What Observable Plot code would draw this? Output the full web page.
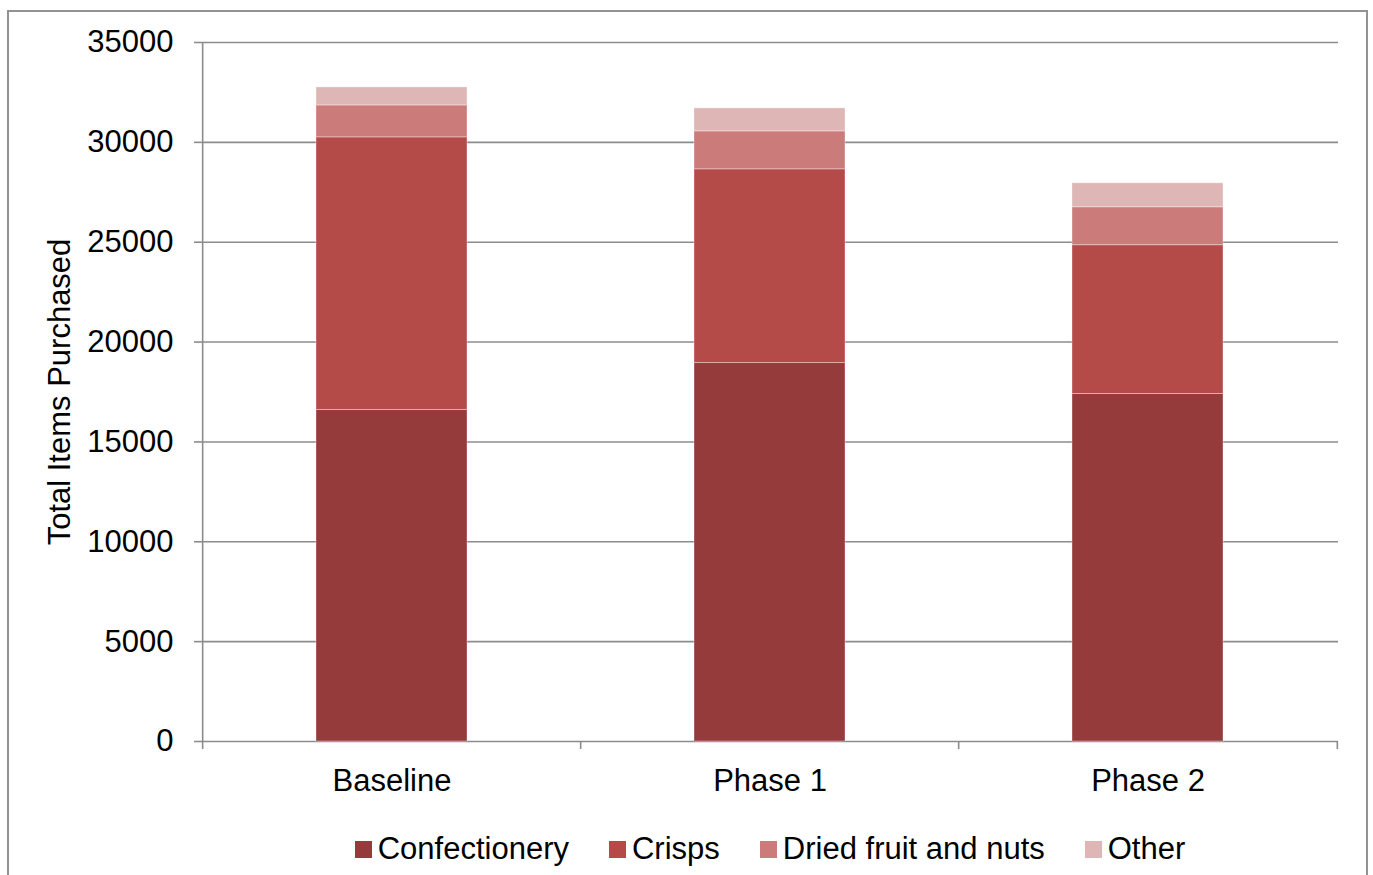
<!DOCTYPE html>
<html><head><meta charset="utf-8">
<script src="https://cdn.jsdelivr.net/npm/d3@7"></script>
<script src="https://cdn.jsdelivr.net/npm/@observablehq/plot@0.6"></script>
<style>
body{margin:0;background:#fff;font-family:"Liberation Sans",Arial,sans-serif;}
#wrap{position:relative;width:1373px;height:875px;overflow:hidden;background:#fff}
#border{position:absolute;left:7px;top:10px;width:1361px;height:900px;border:2px solid #929292;box-sizing:border-box}
#chart{position:absolute;left:0;top:0}
#legend{position:absolute;left:202px;width:1136px;top:829px;height:40px;display:flex;justify-content:center;align-items:center;gap:40px;font-size:31px;color:#000}
.item{display:flex;align-items:center}
.sw{width:17px;height:17px;margin-right:6px}
</style></head>
<body>
<div id="wrap"><div id="border"></div><div id="chart"></div><div id="legend"></div></div>
<script>
const categories = ["Baseline", "Phase 1", "Phase 2"];
const seriesNames = ["Confectionery", "Crisps", "Dried fruit and nuts", "Other"];
const confectionery = [16600, 18950, 17400];
const crisps = [13650, 9700, 7450];
const driedFruitNuts = [1600, 1900, 1900];
const other = [900, 1150, 1200];
const seriesColors = ["#953b3b", "#b54b49", "#cb7c7a", "#dfb6b6"];
const yTicks = [0, 5000, 10000, 15000, 20000, 25000, 30000, 35000];

const seriesValues = [confectionery, crisps, driedFruitNuts, other];
const rows = [];
seriesNames.forEach((s, si) => categories.forEach((c, ci) => rows.push({category: c, series: s, value: seriesValues[si][ci]})));

const W = 1373, H = 825;
const mL = 202, mR = 35, mT = 42, mB = 84;
const step = (W - mL - mR) / categories.length;
const font = "Liberation Sans, Arial, sans-serif";

const plot = Plot.plot({
  width: W, height: H,
  marginLeft: mL, marginRight: mR, marginTop: mT, marginBottom: mB,
  style: {fontFamily: font, fontSize: "31px", color: "#000", background: "transparent", overflow: "visible"},
  x: {domain: categories, paddingInner: 0.6, paddingOuter: 0.3},
  y: {domain: [0, 35000]},
  color: {domain: seriesNames, range: seriesColors},
  marks: [
    Plot.gridY(yTicks, {stroke: "#8c8c8c", strokeOpacity: 1, strokeWidth: 1.6}),
    Plot.barY(rows, {x: "category", y: "value", fill: "series", z: "series", stroke: "#ffffff", strokeOpacity: 0.35, strokeWidth: 1}),
    Plot.ruleX([categories[0]], {x: d => d, dx: -step / 2, y1: 0, y2: 35000, stroke: "#8c8c8c", strokeWidth: 1.6}),
    Plot.ruleX(categories, {x: d => d, dx: -step / 2, y1: 0, y2: -400, stroke: "#8c8c8c", strokeWidth: 1.6}),
    Plot.ruleX([categories[categories.length - 1]], {x: d => d, dx: step / 2, y1: 0, y2: -400, stroke: "#8c8c8c", strokeWidth: 1.6}),
    Plot.axisY(yTicks, {tickSize: 8, tickPadding: 21, tickFormat: d => String(d), stroke: "#8c8c8c", strokeWidth: 1.6, fontSize: 31, fill: "#000", label: null}),
    Plot.axisX({tickSize: 0, tickPadding: 27, fontSize: 31, fill: "#000", label: null}),
    Plot.text(["Total Items Purchased"], {frameAnchor: "left", dx: -142, rotate: -90, text: d => d, fontSize: 31, fill: "#000", textAnchor: "middle", lineAnchor: "middle"})
  ]
});
document.getElementById("chart").appendChild(plot);

const legend = document.getElementById("legend");
seriesNames.forEach((s, i) => {
  const it = document.createElement("div"); it.className = "item";
  const sw = document.createElement("div"); sw.className = "sw"; sw.style.background = seriesColors[i];
  const t = document.createElement("span"); t.textContent = s;
  it.appendChild(sw); it.appendChild(t); legend.appendChild(it);
});
</script>
</body></html>
